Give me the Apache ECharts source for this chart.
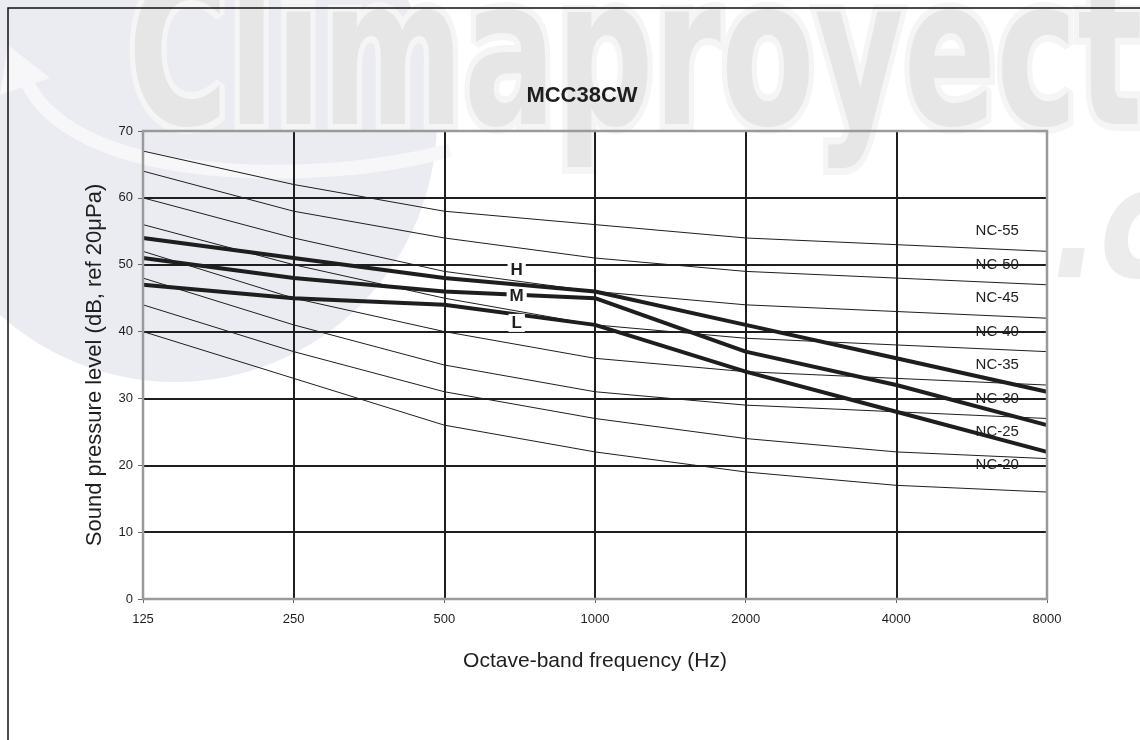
<!DOCTYPE html>
<html>
<head>
<meta charset="utf-8">
<script src="https://cdn.jsdelivr.net/npm/echarts@6/dist/echarts.min.js"></script>
<style>
  html, body { margin: 0; padding: 0; background: #fff; }
  #chart { width: 1140px; height: 740px; }
</style>
</head>
<body>
<div id="chart"></div>
<script>
// frequency bands (Hz), one per x position
const freqLabels = ['125', '250', '500', '1000', '2000', '4000', '8000'];

// NC reference curves (dB per band)
const ncNames = ['NC-55', 'NC-50', 'NC-45', 'NC-40', 'NC-35', 'NC-30', 'NC-25', 'NC-20'];
const ncLevels = [55, 50, 45, 40, 35, 30, 25, 20];
const nc55 = [67, 62, 58, 56, 54, 53, 52];
const nc50 = [64, 58, 54, 51, 49, 48, 47];
const nc45 = [60, 54, 49, 46, 44, 43, 42];
const nc40 = [56, 50, 45, 41, 39, 38, 37];
const nc35 = [52, 45, 40, 36, 34, 33, 32];
const nc30 = [48, 41, 35, 31, 29, 28, 27];
const nc25 = [44, 37, 31, 27, 24, 22, 21];
const nc20 = [40, 33, 26, 22, 19, 17, 16];
const ncCurves = [nc55, nc50, nc45, nc40, nc35, nc30, nc25, nc20];

// unit fan speeds
const fanNames = ['H', 'M', 'L'];
const fanH = [54, 51, 48, 46, 41, 36, 31];
const fanM = [51, 48, 46, 45, 37, 32, 26];
const fanL = [47, 45, 44, 41, 34, 28, 22];
const fanCurves = [fanH, fanM, fanL];
const fanLabelLevels = [49.2, 45.2, 41.3];

// y ticks
const yMin = 0, yMax = 70, yStep = 10;

const FONT = 'Liberation Sans, Arial, sans-serif';
const INK = '#1e1e1e';

const toPairs = arr => arr.map((v, i) => [i, v]);

const series = [];

// thin NC curves, with their name written near the right edge
ncCurves.forEach((curve, k) => {
  series.push({
    name: ncNames[k],
    type: 'line',
    data: toPairs(curve),
    symbol: 'none',
    silent: true,
    z: 3,
    lineStyle: { color: INK, width: 1 },
    markPoint: {
      symbol: 'circle',
      symbolSize: 0,
      silent: true,
      label: {
        show: true,
        position: 'inside',
        formatter: ncNames[k],
        color: INK,
        fontFamily: FONT,
        fontSize: 15
      },
      data: [{ coord: [5.67, ncLevels[k]] }]
    }
  });
});

// thick H / M / L curves
fanCurves.forEach((curve, k) => {
  series.push({
    name: fanNames[k],
    type: 'line',
    data: toPairs(curve),
    symbol: 'none',
    silent: true,
    z: 4,
    lineStyle: { color: INK, width: 4 },
    markPoint: {
      symbol: 'circle',
      symbolSize: 0,
      silent: true,
      z: 6,
      label: {
        show: true,
        position: 'inside',
        formatter: fanNames[k],
        color: INK,
        fontFamily: FONT,
        fontWeight: 'bold',
        fontSize: 17,
        backgroundColor: '#fff',
        padding: [1, 3, 0, 3]
      },
      data: [{ coord: [2.48, fanLabelLevels[k]] }]
    }
  });
});

// split line colours: ends transparent (the grid border draws them in grey)
const xSplitColors = freqLabels.map((_, i) =>
  (i === 0 || i === freqLabels.length - 1) ? 'rgba(0,0,0,0)' : INK);
const ySplitColors = [];
for (let v = yMin; v <= yMax; v += yStep) {
  ySplitColors.push((v === yMin || v === yMax) ? 'rgba(0,0,0,0)' : INK);
}

const chart = echarts.init(document.getElementById('chart'), null, { renderer: 'canvas' });

chart.setOption({
  animation: false,
  backgroundColor: '#fff',
  title: {
    text: 'MCC38CW',
    left: 577,
    top: 80,
    textAlign: 'center',
    textStyle: { fontFamily: FONT, fontWeight: 'bold', fontSize: 22, color: INK }
  },
  graphic: [
    // faint background logo
    {
      type: 'circle',
      z: -20,
      silent: true,
      shape: { cx: 175, cy: 120, r: 262 },
      style: { fill: '#ebebf2' }
    },
    {
      type: 'bezierCurve',
      z: -19,
      silent: true,
      shape: { x1: 22, y1: 70, cpx1: 60, cpy1: 190, cpx2: 330, cpy2: 185, x2: 450, y2: 150 },
      style: { stroke: '#f7f7fa', lineWidth: 14, fill: null }
    },
    {
      type: 'polygon',
      z: -19,
      silent: true,
      shape: { points: [[0, 95], [8, 45], [50, 78]] },
      style: { fill: '#f7f7fa' }
    },
    {
      type: 'text',
      z: -18,
      silent: true,
      x: 128,
      y: -32,
      scaleX: 0.74,
      style: {
        text: 'Climaproyectos',
        fontFamily: 'DejaVu Sans Condensed, DejaVu Sans',
        fontWeight: 'bold',
        fontSize: 205,
        fill: '#e6e6e6',
        stroke: '#f5f5f5',
        lineWidth: 14
      }
    },
    {
      type: 'text',
      z: -18,
      silent: true,
      x: 1052,
      y: 160,
      scaleY: 1.1,
      style: {
        text: '.co',
        fontFamily: 'DejaVu Sans Condensed, DejaVu Sans',
        fontWeight: 'bold',
        fontStyle: 'italic',
        fontSize: 140,
        fill: '#ececec'
      }
    },
    // outer frame
    {
      type: 'rect',
      z: 100,
      silent: true,
      shape: { x: 8, y: 8, width: 1200, height: 800 },
      style: { fill: null, stroke: '#111', lineWidth: 1.5 }
    }
  ],
  grid: {
    left: 143,
    right: 93,
    top: 131,
    bottom: 141,
    show: true,
    backgroundColor: 'rgba(0,0,0,0)',
    borderColor: '#9a9a9a',
    borderWidth: 2.5,
    z: 5
  },
  xAxis: {
    type: 'value',
    min: 0,
    max: freqLabels.length - 1,
    interval: 1,
    name: 'Octave-band frequency (Hz)',
    nameLocation: 'middle',
    nameGap: 52,
    nameTextStyle: { fontFamily: FONT, fontSize: 21, color: INK },
    axisLine: { show: false },
    axisTick: { show: true, length: 4, lineStyle: { color: '#666' } },
    axisLabel: {
      color: INK,
      fontFamily: FONT,
      fontSize: 13,
      margin: 14,
      formatter: v => freqLabels[v] || ''
    },
    splitLine: { show: true, lineStyle: { color: xSplitColors, width: 2 } }
  },
  yAxis: {
    type: 'value',
    min: yMin,
    max: yMax,
    interval: yStep,
    name: 'Sound pressure level (dB, ref 20\u03bcPa)',
    nameLocation: 'middle',
    nameGap: 37,
    nameTextStyle: { fontFamily: FONT, fontSize: 22, color: INK },
    axisLine: { show: false },
    axisTick: { show: true, length: 5, lineStyle: { color: '#666' } },
    axisLabel: { color: INK, fontFamily: FONT, fontSize: 13, margin: 10 },
    splitLine: { show: true, lineStyle: { color: ySplitColors, width: 2 } }
  },
  series: series
});
</script>
</body>
</html>
